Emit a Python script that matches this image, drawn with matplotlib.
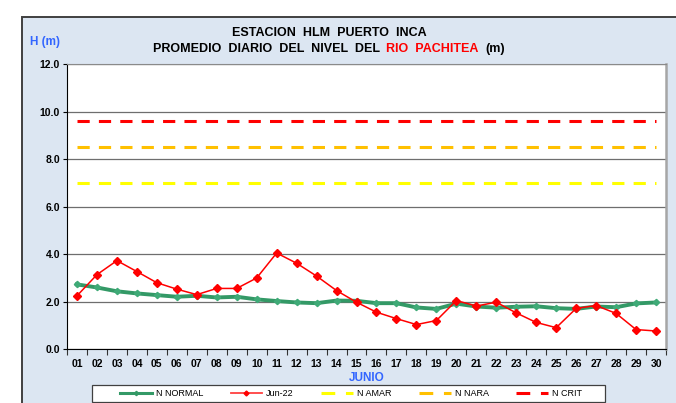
import numpy as np
import matplotlib
matplotlib.use("Agg")
import matplotlib.pyplot as plt
from matplotlib.patches import Rectangle
from matplotlib.lines import Line2D
from matplotlib.ticker import FormatStrFormatter, FixedLocator

plt.rcParams["font.family"] = ["Liberation Sans", "DejaVu Sans"]

# Niveles diarios - junio
dias = ["01", "02", "03", "04", "05", "06", "07", "08", "09", "10",
        "11", "12", "13", "14", "15", "16", "17", "18", "19", "20",
        "21", "22", "23", "24", "25", "26", "27", "28", "29", "30"]
n_normal = [2.73, 2.60, 2.44, 2.35, 2.28, 2.21, 2.25, 2.18, 2.21, 2.10,
            2.03, 1.97, 1.94, 2.05, 2.04, 1.94, 1.94, 1.76, 1.70, 1.92,
            1.80, 1.75, 1.79, 1.81, 1.73, 1.70, 1.80, 1.77, 1.93, 1.97]
jun_22 = [2.25, 3.14, 3.73, 3.27, 2.80, 2.53, 2.30, 2.56, 2.56, 3.00,
          4.05, 3.62, 3.08, 2.47, 1.98, 1.56, 1.29, 1.04, 1.21, 2.05,
          1.82, 1.98, 1.53, 1.13, 0.91, 1.72, 1.84, 1.51, 0.83, 0.77]
n_amar = 7.0
n_nara = 8.5
n_crit = 9.6

W, H = 676, 403
fig = plt.figure(figsize=(W / 100, H / 100), dpi=100)
fig.patch.set_facecolor("white")

# marco azul claro del grafico
fig.patches.append(Rectangle((22 / W, -0.05), 1.1, 1 - 17 / H + 0.05,
                             transform=fig.transFigure, facecolor="#DCE6F2",
                             edgecolor="#404040", linewidth=1.4, zorder=-5))

ax = fig.add_axes([67 / W, 1 - 349.3 / H, (666 - 67) / W, (349.3 - 64) / H])
ax.set_facecolor("white")

x = np.arange(1, len(dias) + 1)

dash = dict(linewidth=2.2, dashes=(4, 3), solid_capstyle="butt", dash_capstyle="butt")
ax.plot([x[0], x[-1]], [n_amar, n_amar], color="#FFFF00", **dash)
ax.plot([x[0], x[-1]], [n_nara, n_nara], color="#FFC000", **dash)
ax.plot([x[0], x[-1]], [n_crit, n_crit], color="#FF0000", **dash)

ax.plot(x, n_normal, color="#339966", linewidth=2.8, marker="D",
        markersize=3.2, markerfacecolor="#3FAA77",
        markeredgecolor="#3FAA77", zorder=3)
ax.plot(x, jun_22, color="#FF0000", linewidth=1.1, marker="D",
        markersize=4, markeredgecolor="#FF0000", zorder=4)

ax.set_xlim(0.5, len(dias) + 0.5)
ax.set_ylim(0, 12)
ax.set_yticks(np.arange(0, 12.1, 2))
ax.yaxis.set_major_formatter(FormatStrFormatter("%.1f"))
ax.set_xticks(x)
ax.set_xticklabels(dias)
ax.xaxis.set_minor_locator(FixedLocator(np.arange(0.5, len(dias) + 1, 1)))
ax.tick_params(axis="x", which="major", length=0, pad=7, labelsize=7.5)
ax.tick_params(axis="x", which="minor", length=4, width=0.8, color="#333333")
ax.tick_params(axis="y", length=3, width=0.8, pad=2, labelsize=7.5)
for lab in ax.get_xticklabels() + ax.get_yticklabels():
    lab.set_fontweight("bold")

ax.grid(axis="y", color="#6E6E6E", linewidth=0.9)
ax.set_axisbelow(True)
ax.spines["left"].set_color("black")
ax.spines["bottom"].set_color("black")
ax.spines["top"].set_color("#8A8A8A")
ax.spines["right"].set_color("#A6A6A6")
ax.spines["right"].set_linewidth(1.8)

ax.set_xlabel("JUNIO", color="#3366FF", fontweight="bold", fontsize=8.5, labelpad=2)

fig.text(45 / W, 1 - 42 / H, "H (m)", color="#3366FF", fontweight="bold",
         fontsize=8.5, ha="center", va="center")

# titulo en dos lineas, con el nombre del rio en rojo
fs_tit = 9
fig.text(329 / W, 1 - 33 / H, "ESTACION  HLM  PUERTO  INCA", fontweight="bold",
         fontsize=fs_tit, ha="center", va="center")
partes = [("PROMEDIO  DIARIO  DEL  NIVEL  DEL", "black"),
          ("RIO  PACHITEA", "#FF0000"),
          ("(m)", "black")]
textos = [fig.text(0, 1 - 49 / H, p, color=c, fontweight="bold", fontsize=fs_tit,
                   ha="left", va="center") for p, c in partes]
fig.canvas.draw()
rend = fig.canvas.get_renderer()
anchos = [t.get_window_extent(rend).width for t in textos]
hueco = 0.556 * fs_tit * 100 / 72
total = sum(anchos) + hueco * (len(textos) - 1)
xpos = 329 - total / 2
for t, a in zip(textos, anchos):
    t.set_x(xpos / W)
    xpos += a + hueco

# leyenda con recuadro propio
fig.patches.append(Rectangle((92 / W, 1 - 402 / H), (605 - 92) / W, 17 / H,
                             transform=fig.transFigure, facecolor="white",
                             edgecolor="#404040", linewidth=0.9, zorder=4))
ley_dash = dict(linewidth=2.2, dashes=(4.5, 3.5), dash_capstyle="butt")
handles = [
    Line2D([], [], color="#339966", linewidth=2.2, marker="D", markersize=2.2),
    Line2D([], [], color="#FF4040", linewidth=1.3, marker="D", markersize=2.5,
           markerfacecolor="#FF0000", markeredgecolor="#FF0000"),
    Line2D([], [], color="#FFFF00", **ley_dash),
    Line2D([], [], color="#FFC000", **ley_dash),
    Line2D([], [], color="#FF0000", **ley_dash),
]
labels = ["N NORMAL", "Jun-22", "N AMAR", "N NARA", "N CRIT"]
leg = fig.legend(handles, labels, ncol=5, loc="center left",
                 bbox_to_anchor=(120 / W, 1 - 393.5 / H),
                 prop={"family": ["Liberation Sans Narrow", "Liberation Sans"], "size": 6.5},
                 frameon=False, handlelength=3.5, handletextpad=0.45,
                 columnspacing=3.05, borderpad=0, borderaxespad=0, numpoints=1)
leg.set_zorder(5)

fig.savefig("out.png", dpi=100, facecolor=fig.get_facecolor())
